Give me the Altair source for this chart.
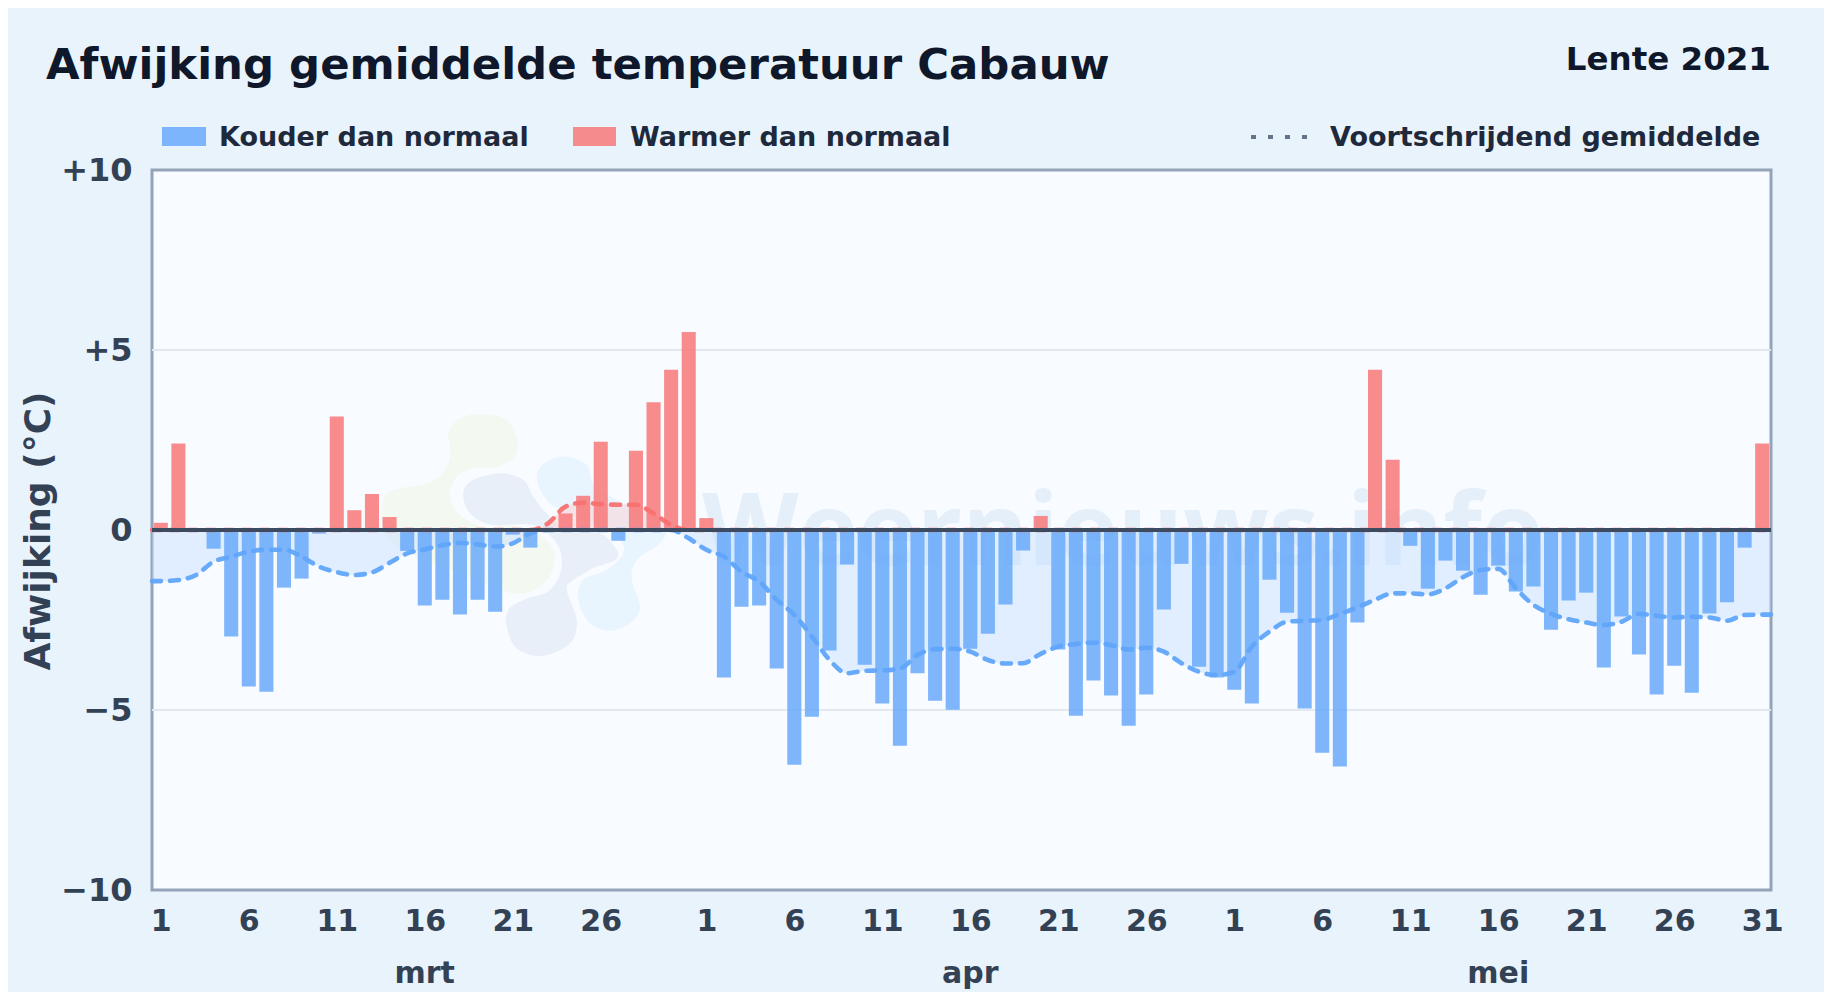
import altair as alt
import pandas as pd

# ---------- data ----------
DEV_MRT = [0.2, 2.4, 0.0, -0.52, -2.96, -4.35, -4.49, -1.6, -1.35, -0.1, 3.15, 0.55, 1.0, 0.36, -0.58, -2.1,
           -1.94, -2.35, -1.94, -2.27, -0.13, -0.49, -0.06, 0.46, 0.95, 2.45, -0.3, 2.2, 3.55, 4.45, 5.5]
DEV_APR = [0.33, -4.1, -2.13, -2.1, -3.85, -6.52, -5.19, -3.35, -0.96, -3.74, -4.82, -5.99, -3.98, -4.74, -4.99,
           -3.3, -2.88, -2.07, -0.57, 0.39, -3.32, -5.16, -4.18, -4.6, -5.44, -4.57, -2.21, -0.94, -3.8, -4.1]
DEV_MEI = [-4.44, -4.82, -1.38, -2.3, -4.96, -6.19, -6.57, -2.57, 4.45, 1.95, -0.44, -1.63, -0.85, -1.13, -1.8,
           -0.99, -1.71, -1.57, -2.77, -1.96, -1.74, -3.82, -2.4, -3.46, -4.57, -3.77, -4.52, -2.32, -2.01, -0.49, 2.4]
MA_MRT = [-1.42, -1.39, -1.25, -0.88, -0.74, -0.6, -0.55, -0.55, -0.74, -1.02, -1.17, -1.25, -1.18, -0.91, -0.65, -0.54,
          -0.42, -0.36, -0.4, -0.46, -0.37, -0.09, 0.18, 0.65, 0.76, 0.72, 0.7, 0.7, 0.46, 0.14, -0.23]
MA_APR = [-0.55, -0.74, -1.16, -1.43, -1.94, -2.36, -2.96, -3.61, -3.98, -3.91, -3.9, -3.85, -3.47, -3.31, -3.3,
          -3.38, -3.61, -3.71, -3.7, -3.44, -3.24, -3.17, -3.13, -3.2, -3.32, -3.27, -3.38, -3.7, -3.94, -4.03]
MA_MEI = [-3.94, -3.24, -2.82, -2.55, -2.52, -2.5, -2.33, -2.15, -1.94, -1.76, -1.76, -1.79, -1.62, -1.31, -1.11,
          -1.08, -1.62, -2.08, -2.33, -2.48, -2.57, -2.64, -2.55, -2.33, -2.38, -2.43, -2.41, -2.43, -2.52, -2.36, -2.35]
MONTHS = ["mrt", "apr", "mei"]
MONTH_MID_DAYS = [16, 47, 77]
X_TICKS = [1, 6, 11, 16, 21, 26, 32, 37, 42, 47, 52, 57, 62, 67, 72, 77, 82, 87, 92]
Y_TICKS = [-10, -5, 0, 5, 10]
GRID = [-5, 5]

# ---------- styling ----------
FONT = "DejaVu Sans"
BG = "#e9f3fc"
PLOT_BG = "#f8fbff"
BLUE, RED = "#60a5fa", "#f87171"
W, H = 1619, 720
LEFT, TOP = 152, 170

dev = DEV_MRT + DEV_APR + DEV_MEI
ma = MA_MRT + MA_APR + MA_MEI
days = list(range(1, 93))
bars = pd.DataFrame({"day": days, "dev": dev, "kind": ["warm" if v > 0 else "cold" for v in dev]})
ma_x = [0.5] + days + [92.5]
ma_y = [ma[0]] + ma + [ma[-1]]
line = pd.DataFrame({"day": ma_x, "ma": ma_y})
line["neg"] = line["ma"].clip(upper=0)
line["pos"] = line["ma"].clip(lower=0)
line["zero"] = 0.0

xs = alt.Scale(domain=[0.5, 92.5], nice=False, zero=False)
ys = alt.Scale(domain=[-10, 10], nice=False)
X = alt.X("day:Q", scale=xs, title=None)
Y_NONE = dict(scale=ys, title=None)


def smooth(points):
    """Closed Catmull-Rom outline for the faint logo, in plot pixels."""
    p = [(360 + a / 3 - LEFT, 390 + b / 3 - TOP) for a, b in points]
    n = len(p)
    d = f"M{p[0][0]:.1f},{p[0][1]:.1f}"
    for i in range(n):
        p0, p1, p2, p3 = p[i - 1], p[i], p[(i + 1) % n], p[(i + 2) % n]
        c1 = (p1[0] + (p2[0] - p0[0]) / 6, p1[1] + (p2[1] - p0[1]) / 6)
        c2 = (p2[0] - (p3[0] - p1[0]) / 6, p2[1] - (p3[1] - p1[1]) / 6)
        d += f"C{c1[0]:.1f},{c1[1]:.1f},{c2[0]:.1f},{c2[1]:.1f},{p2[0]:.1f},{p2[1]:.1f}"
    return d + "Z"


LOGO_GREEN = [(265, 130), (300, 85), (370, 72), (440, 90), (472, 150), (465, 200), (410, 232), (340, 235), (290, 260),
              (270, 320), (300, 375), (370, 412), (450, 408), (530, 430), (580, 480), (578, 540), (540, 590), (480, 612),
              (425, 600), (300, 550), (130, 480), (70, 420), (70, 330), (100, 300), (215, 275), (265, 220), (270, 170)]
LOGO_DARK = [(310, 320), (330, 275), (420, 250), (490, 270), (520, 320), (560, 370), (620, 420), (720, 430), (770, 480),
             (765, 510), (700, 535), (640, 570), (620, 600), (650, 690), (630, 760), (545, 798), (470, 775), (440, 710),
             (445, 660), (490, 630), (570, 600), (605, 530), (590, 460), (520, 405), (400, 405), (335, 375)]
LOGO_LIGHT = [(530, 260), (560, 215), (620, 200), (680, 225), (700, 280), (770, 330), (870, 370), (920, 410), (900, 460),
              (830, 510), (815, 570), (840, 650), (810, 700), (750, 722), (690, 700), (655, 630), (670, 570), (740, 540),
              (790, 490), (775, 440), (700, 400), (620, 370), (560, 330)]


def blob(points, color):
    return (alt.Chart(pd.DataFrame({"a": [1]}))
            .mark_point(shape=smooth(points), filled=True, size=4, opacity=1, fill=color, strokeWidth=0, clip=False)
            .encode(x=alt.value(0), y=alt.value(0)))


def label(text, x, y, size, color, align="left", angle=None, weight="bold", font=FONT, baseline="middle"):
    kw = dict(font=font, fontSize=size, fontWeight=weight, color=color, align=align, baseline=baseline)
    if angle is not None:
        kw["angle"] = angle
    return (alt.Chart(pd.DataFrame({"t": [text]})).mark_text(**kw)
            .encode(text="t:N", x=alt.value(x), y=alt.value(y)))


def swatch(x0, x1, color):
    return (alt.Chart(pd.DataFrame({"a": [1]})).mark_rect(color=color, opacity=0.8)
            .encode(x=alt.value(x0 - LEFT), x2=alt.value(x1 - LEFT),
                    y=alt.value(127 - TOP), y2=alt.value(146 - TOP)))


logo = blob(LOGO_GREEN, "#f3f8f1") + blob(LOGO_DARK, "#e8eff8") + blob(LOGO_LIGHT, "#e8f4fe")
watermark = label("Weernieuws.info", 1123 - LEFT, 565 - TOP, 100, "#e4effa", align="center",
                  font="Open Sans", baseline="alphabetic")

grid = alt.Chart(pd.DataFrame({"v": GRID})).mark_rule(color="#e2e8f0", strokeWidth=2).encode(
    y=alt.Y("v:Q", **Y_NONE))

area_neg = alt.Chart(line).mark_area(color="#bfdbfe", opacity=0.42, interpolate="monotone").encode(
    x=X, y=alt.Y("neg:Q", **Y_NONE), y2="zero:Q")
area_pos = alt.Chart(line).mark_area(color="#fecaca", opacity=0.42, interpolate="monotone").encode(
    x=X, y=alt.Y("pos:Q", **Y_NONE), y2="zero:Q")

bar = (alt.Chart(bars)
       .transform_calculate(x0="datum.day-0.4", x1="datum.day+0.4", base="0")
       .mark_rect(opacity=0.8)
       .encode(x=alt.X("x0:Q", scale=xs, title=None,
                       axis=alt.Axis(values=X_TICKS, domain=False, ticks=False, grid=False, labelPadding=31,
                                     labelFont=FONT, labelFontWeight="bold", labelFontSize=30, labelColor="#334155",
                                     labelBaseline="middle", labelFlush=False, labelOverlap=False,
                                     labelExpr="datum.value<=31?datum.value:datum.value<=61?datum.value-31:datum.value-61")),
               x2="x1:Q",
               y=alt.Y("dev:Q", scale=ys, title=None,
                       axis=alt.Axis(values=Y_TICKS, domain=False, ticks=False, grid=False, labelPadding=20,
                                     labelFont=FONT, labelFontWeight="bold", labelFontSize=32, labelColor="#334155",
                                     labelOverlap=False,
                                     labelExpr="datum.value>0?'+'+datum.value:datum.value<0?'\u2212'+abs(datum.value):'0'")),
               y2="base:Q",
               color=alt.Color("kind:N", scale=alt.Scale(domain=["cold", "warm"], range=[BLUE, RED]), legend=None)))

DASH = [9, 9]
line_neg = alt.Chart(line).mark_line(color=BLUE, strokeWidth=4.6, strokeDash=DASH, strokeCap="round",
                                     interpolate="monotone", opacity=0.95).encode(x=X, y=alt.Y("neg:Q", **Y_NONE))
line_pos = alt.Chart(line).mark_line(color=RED, strokeWidth=4.6, strokeDash=DASH, strokeCap="round",
                                     interpolate="monotone", opacity=0.95).encode(x=X, y=alt.Y("pos:Q", **Y_NONE))

zero = alt.Chart(pd.DataFrame({"v": [0]})).mark_rule(color="#3d4b61", strokeWidth=4).encode(y=alt.Y("v:Q", **Y_NONE))

months = (alt.Chart(pd.DataFrame({"m": MONTHS, "day": MONTH_MID_DAYS}))
          .mark_text(font=FONT, fontWeight="bold", fontSize=30, color="#334155", baseline="middle", align="center")
          .encode(text="m:N", x=X, y=alt.value(974 - TOP)))

title = label("Afwijking gemiddelde temperatuur Cabauw", 46 - LEFT, 66 - TOP, 43.4, "#0f172a")
season = label("Lente 2021", 1771 - LEFT, 60 - TOP, 32.5, "#0f172a", align="right")
leg1 = label("Kouder dan normaal", 219 - LEFT, 138 - TOP, 27, "#1e293b")
leg2 = label("Warmer dan normaal", 630 - LEFT, 138 - TOP, 27, "#1e293b")
leg3 = label("Voortschrijdend gemiddelde", 1330 - LEFT, 138 - TOP, 27, "#1e293b")
dots = alt.Chart(pd.DataFrame({"a": [1]})).mark_rule(color="#64748b", strokeWidth=4, strokeDash=[5, 12]).encode(
    x=alt.value(1251 - LEFT), x2=alt.value(1310 - LEFT), y=alt.value(137 - TOP))
ytitle = label("Afwijking (\u00b0C)", 39 - LEFT, 531 - TOP, 36, "#334155", align="center", angle=270)

chart = (alt.layer(logo, watermark, grid, area_neg, area_pos, bar, line_neg, line_pos, zero, months,
                   title, season, swatch(162, 206, BLUE), leg1, swatch(573, 616, RED), leg2, dots, leg3, ytitle)
         .resolve_scale(color="independent")
         .properties(width=W, height=H, background=BG,
                     padding={"left": LEFT - 8, "top": TOP - 8, "right": 1824 - LEFT - W, "bottom": 992 - TOP - H},
                     autosize=alt.AutoSizeParams(type="none"))
         .configure_view(fill=PLOT_BG, stroke="#94a3b8", strokeWidth=3))

chart.save("out.html", embed_options={"renderer": "svg", "actions": False})
